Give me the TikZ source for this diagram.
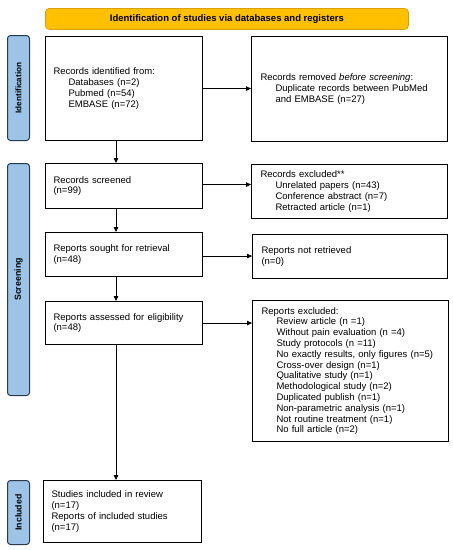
\documentclass[tikz,border=0pt]{standalone}
\usepackage{fontspec}
\setmainfont{Liberation Sans}
\usetikzlibrary{arrows.meta}
\definecolor{bannerfill}{HTML}{FFC000}
\definecolor{bannerline}{HTML}{D9A000}
\definecolor{sidefill}{HTML}{9DC3E6}
\definecolor{sideline}{HTML}{2A3A4A}
\tikzset{
  box/.style={draw=black, line width=1.1pt, anchor=north west, align=left,
    inner xsep=8pt, inner ysep=0pt, font=\fontsize{9.5}{10.8}\selectfont},
  side/.style={draw=sideline, fill=sidefill, line width=1pt, rounded corners=3pt, anchor=north west},
  sidelabel/.style={rotate=90, font=\fontsize{8.8}{10}\selectfont\bfseries},
  banner/.style={draw=bannerline, fill=bannerfill, line width=0.8pt, rounded corners=4pt, anchor=north west,
    font=\fontsize{9.5}{11}\selectfont\bfseries},
  arr/.style={-{Triangle[length=5pt,width=4.5pt]}, line width=0.8pt}
}
\newcommand{\ind}{\hspace*{15pt}}
\begin{document}
\begin{tikzpicture}[x=1pt,y=-1pt]
\useasboundingbox (0,0) rectangle (453,550);
% banner
\node[banner, minimum width=363pt, minimum height=21pt] (ban) at (45,8) {Identification of studies via databases and registers};
% side boxes
\node[side, minimum width=22pt, minimum height=105pt] (sid1) at (7,35) {};
\node[sidelabel, font=\fontsize{8.2}{10}\selectfont\bfseries] (lab1) at (sid1.center) {Identification};
\node[side, minimum width=22pt, minimum height=232pt] (sid2) at (7,163) {};
\node[sidelabel] (lab2) at (sid2.center) {Screening};
\node[side, minimum width=22pt, minimum height=64pt] (sid3) at (7,480) {};
\node[sidelabel] (lab3) at (sid3.center) {Included};
% boxes
\node[box, text width=141pt, minimum height=104pt] (A) at (45,36)
  {Records identified from:\\\ind Databases (n=2)\\\ind Pubmed (n=54)\\\ind EMBASE (n=72)};
\node[box, text width=180pt, minimum height=105pt, inner xsep=9pt, text width=178pt] (B) at (251,36)
  {Records removed \textit{before screening}:\\\ind Duplicate records between PubMed\\\ind and EMBASE (n=27)};
\node[box, text width=141pt, minimum height=45pt] (C) at (45,163)
  {Records screened\\(n=99)};
\node[box, inner xsep=9pt, text width=178pt, minimum height=54pt] (D) at (251,164)
  {Records excluded**\\\ind Unrelated papers (n=43)\\\ind Conference abstract (n=7)\\\ind Retracted article (n=1)};
\node[box, text width=141pt, minimum height=44pt] (E) at (45,232)
  {Reports sought for retrieval\\(n=48)};
\node[box, inner xsep=9pt, text width=177pt, minimum height=44pt] (F) at (252,234)
  {Reports not retrieved\\(n=0)};
\node[box, text width=141pt, minimum height=43pt] (G) at (45,301)
  {Reports assessed for eligibility\\(n=48)};
\node[box, inner xsep=9pt, text width=178pt, minimum height=141pt] (H) at (252,300)
  {Reports excluded:\\\ind Review article (n =1)\\\ind Without pain evaluation (n =4)\\\ind Study protocols (n =11)\\\ind No exactly results, only figures (n=5)\\\ind Cross-over design (n=1)\\\ind Qualitative study (n=1)\\\ind Methodological study (n=2)\\\ind Duplicated publish (n=1)\\\ind Non-parametric analysis (n=1)\\\ind Not routine treatment (n=1)\\\ind No full article (n=2)};
\node[box, text width=142pt, minimum height=62pt] (I) at (43,480)
  {Studies included in review\\(n=17)\\Reports of included studies\\(n=17)};
% connectors
\coordinate (vx) at (116,0);
\draw[arr] (A.south -| vx) -- (C.north -| vx);
\draw[arr] (C.south -| vx) -- (E.north -| vx);
\draw[arr] (E.south -| vx) -- (G.north -| vx);
\draw[arr] (G.south -| vx) -- (I.north -| vx);
\draw[arr] (A.east) -- (A.east -| B.west);
\draw[arr] ([yshift=1.5pt]C.east) -- ([yshift=1.5pt]C.east -| D.west);
\draw[arr] ([yshift=-1.5pt]E.east) -- ([yshift=-1.5pt]E.east -| F.west);
\draw[arr] (G.east) -- (G.east -| H.west);
\end{tikzpicture}
\end{document}
